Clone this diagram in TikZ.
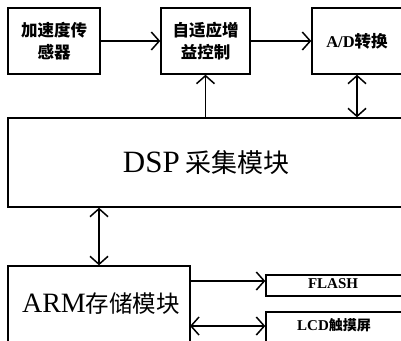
\documentclass[tikz,border=0pt]{standalone}
\usepackage{fontspec}
\setmainfont{Liberation Serif}
\newfontfamily\cjk{Noto Sans CJK SC}
\usetikzlibrary{arrows.meta}
\begin{document}
\begin{tikzpicture}[x=1pt,y=-1pt,
  box/.style={draw,line width=1.4pt,inner sep=0pt},
  tip/.tip={Straight Barb[length=8pt,width=18pt,line width=1.5pt]},
  conn/.style={line width=1.5pt,-tip},
  bconn/.style={line width=1.5pt,tip-tip},
  small/.style={font=\fontsize{16.5}{22}\selectfont\bfseries},
]
\useasboundingbox (0,0) rectangle (401,340);
\clip (0,0) rectangle (401,340);
\fill[white] (0,0) rectangle (401,340);
% top row
\node[box,minimum width=92pt,minimum height=66pt,align=center,small] (sens) at (54,41) {\cjk\bfseries 加速度传\\\cjk\bfseries 感器};
\node[box,minimum width=89pt,minimum height=66pt,align=center,small] (agc) at (205.5,41) {\cjk\bfseries 自适应增\\\cjk\bfseries 益控制};
\node[box,minimum width=90pt,minimum height=66pt,small] (ad) at (357,41) {\bfseries A/D\cjk\bfseries 转换};
% DSP
\node[box,minimum width=400pt,minimum height=89pt] (dsp) at (208,162.5) {};
\node (dspt) at (206,163) {\fontsize{31}{34}\selectfont DSP\,\cjk\fontsize{26}{30}\selectfont 采集模块};
% ARM
\node[box,minimum width=182pt,minimum height=80pt] (arm) at (99,306) {};
\node (armt) at (101,304) {\fontsize{28}{31}\selectfont ARM\cjk\fontsize{23.5}{28}\selectfont 存储模块};
% FLASH / LCD
\node[box,minimum width=150pt,minimum height=21pt] (flash) at (341,285.5) {};
\node[font=\fontsize{15}{17}\selectfont\bfseries] (flasht) at (333,284) {FLASH};
\node[box,minimum width=150pt,minimum height=40pt] (lcd) at (341,332) {};
\node[font=\fontsize{15}{17}\selectfont\bfseries] (lcdt) at (334,325) {LCD\cjk\bfseries\fontsize{14}{17}\selectfont 触摸屏};
% connectors
\draw[conn] (sens.east) -- (agc.west);
\draw[conn] (agc.east) -- (ad.west);
\draw[conn] (dsp.north -| agc.south) -- (agc.south);
\draw[bconn] (ad.south) -- (dsp.north -| ad.south);
\draw[bconn] (dsp.south -| arm.north) -- (arm.north);
\coordinate (fa) at (arm.east |- flash.west);
\draw[conn] ([yshift=4.5pt]fa) -- ([yshift=4.5pt]flash.west);
\coordinate (la) at (190,326);
\draw[bconn] (la) -- (lcd.west |- la);
\end{tikzpicture}
\end{document}
